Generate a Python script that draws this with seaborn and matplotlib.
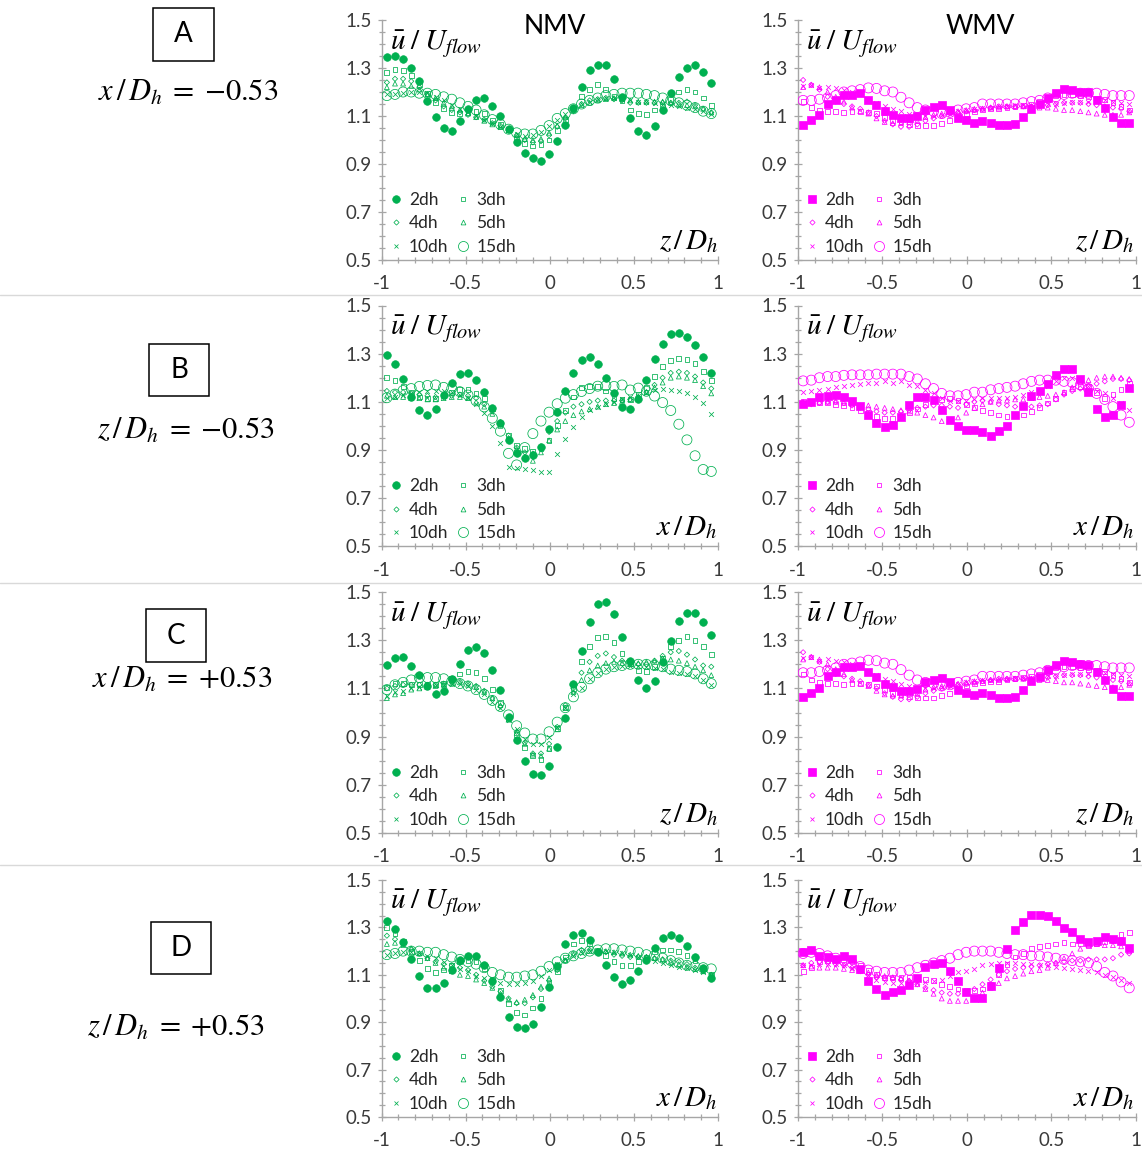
import numpy as np
import matplotlib
matplotlib.use("Agg")
import matplotlib.pyplot as plt
from matplotlib.lines import Line2D
from matplotlib.patches import Rectangle
from matplotlib.ticker import FixedLocator, MultipleLocator
import seaborn as sns

sns.set_style("ticks")
plt.rcParams["font.family"] = ["Lato", "DejaVu Sans"]
plt.rcParams["mathtext.fontset"] = "stix"

W, H = 1142, 1152

# traverse stations (41 measurement points across the section)
positions = np.linspace(-0.968, 0.960, 41)

series_labels = ["2dh", "3dh", "4dh", "5dh", "10dh", "15dh"]
x_ticks = [-1, -0.5, 0, 0.5, 1]
x_tick_labels = ["-1", "-0.5", "0", "0.5", "1"]
y_ticks = [0.5, 0.7, 0.9, 1.1, 1.3, 1.5]
y_tick_labels = ["0.5", "0.7", "0.9", "1.1", "1.3", "1.5"]

# ---------------- row A : x/Dh = -0.53 (traverse in z) ----------------
nmv_A_2dh = [1.347, 1.352, 1.338, 1.302, 1.245, 1.164, 1.094, 1.050, 1.039, 1.079, 1.131, 1.166, 1.175, 1.143,
             1.100, 1.047, 0.992, 0.946, 0.925, 0.911, 0.941, 0.997, 1.063, 1.134, 1.220, 1.291, 1.313, 1.311,
             1.255, 1.181, 1.091, 1.036, 1.022, 1.057, 1.123, 1.195, 1.262, 1.299, 1.311, 1.283, 1.237]
nmv_A_3dh = [1.28, 1.295, 1.29, 1.27, 1.23, 1.195, 1.155, 1.13, 1.115, 1.11, 1.115, 1.12, 1.11, 1.08, 1.065,
             1.045, 1.005, 0.985, 0.975, 0.98, 1.0, 1.04, 1.085, 1.13, 1.18, 1.21, 1.23, 1.21, 1.18, 1.165,
             1.125, 1.11, 1.105, 1.125, 1.14, 1.17, 1.2, 1.21, 1.2, 1.175, 1.145]
nmv_A_4dh = [1.24, 1.255, 1.255, 1.245, 1.22, 1.19, 1.165, 1.14, 1.125, 1.115, 1.105, 1.095, 1.085, 1.07, 1.06,
             1.04, 1.02, 1.0, 0.99, 0.995, 1.02, 1.055, 1.09, 1.12, 1.15, 1.165, 1.17, 1.175, 1.17, 1.165,
             1.155, 1.155, 1.155, 1.155, 1.155, 1.155, 1.155, 1.16, 1.145, 1.13, 1.115]
nmv_A_5dh = [1.22, 1.235, 1.235, 1.225, 1.21, 1.19, 1.175, 1.155, 1.14, 1.125, 1.11, 1.095, 1.08, 1.065, 1.055,
             1.04, 1.02, 1.005, 1.0, 1.005, 1.03, 1.06, 1.095, 1.125, 1.145, 1.155, 1.165, 1.17, 1.175, 1.17,
             1.165, 1.16, 1.16, 1.16, 1.16, 1.155, 1.15, 1.145, 1.14, 1.13, 1.115]
nmv_A_10dh = [1.19, 1.19, 1.195, 1.2, 1.2, 1.195, 1.18, 1.165, 1.145, 1.13, 1.115, 1.1, 1.085, 1.07, 1.055,
              1.04, 1.025, 1.015, 1.02, 1.035, 1.06, 1.085, 1.11, 1.13, 1.15, 1.16, 1.17, 1.175, 1.175, 1.17,
              1.165, 1.16, 1.16, 1.155, 1.15, 1.145, 1.14, 1.135, 1.13, 1.12, 1.11]
nmv_A_15dh = [1.185, 1.19, 1.2, 1.2, 1.195, 1.195, 1.19, 1.18, 1.17, 1.155, 1.14, 1.125, 1.105, 1.085, 1.065,
              1.045, 1.03, 1.025, 1.025, 1.04, 1.06, 1.09, 1.11, 1.13, 1.15, 1.165, 1.175, 1.185, 1.19, 1.195,
              1.195, 1.195, 1.19, 1.185, 1.175, 1.165, 1.155, 1.145, 1.135, 1.12, 1.11]

wmv_A_2dh = [1.064, 1.082, 1.103, 1.151, 1.168, 1.188, 1.188, 1.195, 1.168, 1.146, 1.119, 1.104, 1.091, 1.091,
             1.098, 1.126, 1.136, 1.144, 1.127, 1.093, 1.082, 1.071, 1.079, 1.072, 1.061, 1.061, 1.065, 1.094,
             1.130, 1.148, 1.176, 1.197, 1.212, 1.209, 1.201, 1.198, 1.168, 1.134, 1.097, 1.069, 1.069]
wmv_A_3dh = [1.16, 1.135, 1.125, 1.12, 1.12, 1.115, 1.12, 1.12, 1.115, 1.11, 1.095, 1.08, 1.075, 1.065, 1.06,
             1.06, 1.06, 1.07, 1.08, 1.095, 1.11, 1.12, 1.125, 1.13, 1.13, 1.135, 1.14, 1.145, 1.15, 1.16,
             1.175, 1.185, 1.19, 1.19, 1.185, 1.18, 1.175, 1.17, 1.155, 1.14, 1.125]
wmv_A_4dh = [1.25, 1.23, 1.21, 1.18, 1.16, 1.15, 1.14, 1.13, 1.115, 1.1, 1.08, 1.065, 1.055, 1.055, 1.065,
             1.08, 1.09, 1.1, 1.11, 1.115, 1.12, 1.125, 1.13, 1.135, 1.14, 1.14, 1.14, 1.14, 1.14, 1.14,
             1.145, 1.15, 1.155, 1.155, 1.155, 1.15, 1.145, 1.14, 1.135, 1.13, 1.12]
wmv_A_5dh = [1.22, 1.23, 1.22, 1.2, 1.18, 1.16, 1.135, 1.12, 1.11, 1.09, 1.075, 1.07, 1.07, 1.075, 1.08,
             1.095, 1.105, 1.11, 1.115, 1.12, 1.125, 1.13, 1.13, 1.135, 1.135, 1.14, 1.14, 1.14, 1.14, 1.135,
             1.135, 1.13, 1.125, 1.125, 1.12, 1.115, 1.11, 1.105, 1.105, 1.105, 1.115]
wmv_A_10dh = [1.225, 1.23, 1.215, 1.22, 1.215, 1.21, 1.2, 1.19, 1.17, 1.155, 1.14, 1.13, 1.12, 1.11, 1.1,
              1.1, 1.1, 1.105, 1.11, 1.12, 1.125, 1.13, 1.135, 1.135, 1.14, 1.14, 1.145, 1.145, 1.145, 1.145,
              1.15, 1.15, 1.155, 1.16, 1.16, 1.16, 1.165, 1.165, 1.16, 1.155, 1.15]
wmv_A_15dh = [1.165, 1.165, 1.17, 1.175, 1.185, 1.2, 1.205, 1.21, 1.217, 1.215, 1.205, 1.2, 1.178, 1.155, 1.135,
              1.125, 1.12, 1.11, 1.115, 1.125, 1.13, 1.135, 1.15, 1.15, 1.15, 1.15, 1.15, 1.155, 1.16, 1.165,
              1.175, 1.18, 1.19, 1.195, 1.195, 1.195, 1.195, 1.19, 1.185, 1.185, 1.185]

# ---------------- row B : z/Dh = -0.53 (traverse in x) ----------------
nmv_B_2dh = [1.294, 1.257, 1.194, 1.122, 1.067, 1.046, 1.072, 1.129, 1.178, 1.215, 1.219, 1.192, 1.139, 1.076,
             1.010, 0.943, 0.889, 0.868, 0.879, 0.914, 0.986, 1.058, 1.144, 1.218, 1.274, 1.286, 1.258, 1.200,
             1.135, 1.079, 1.069, 1.112, 1.190, 1.278, 1.342, 1.381, 1.386, 1.369, 1.336, 1.288, 1.219]
nmv_B_3dh = [1.2, 1.19, 1.165, 1.14, 1.12, 1.115, 1.115, 1.125, 1.14, 1.15, 1.15, 1.135, 1.115, 1.07, 1.01,
             0.96, 0.92, 0.905, 0.895, 0.905, 0.94, 1.0, 1.065, 1.12, 1.16, 1.165, 1.165, 1.145, 1.115, 1.11,
             1.11, 1.13, 1.16, 1.205, 1.245, 1.27, 1.28, 1.275, 1.26, 1.225, 1.19]
nmv_B_4dh = [1.145, 1.14, 1.14, 1.135, 1.13, 1.125, 1.12, 1.12, 1.125, 1.13, 1.125, 1.115, 1.09, 1.06, 1.015,
             0.96, 0.91, 0.89, 0.885, 0.915, 0.975, 1.02, 1.055, 1.08, 1.09, 1.1, 1.105, 1.105, 1.105, 1.105,
             1.11, 1.12, 1.14, 1.17, 1.2, 1.22, 1.225, 1.22, 1.205, 1.18, 1.155]
nmv_B_5dh = [1.125, 1.12, 1.12, 1.115, 1.115, 1.11, 1.11, 1.115, 1.12, 1.12, 1.115, 1.1, 1.08, 1.05, 1.0,
             0.95, 0.905, 0.87, 0.855, 0.89, 0.94, 0.985, 1.02, 1.045, 1.06, 1.07, 1.08, 1.09, 1.095, 1.1,
             1.11, 1.12, 1.14, 1.16, 1.18, 1.2, 1.205, 1.2, 1.19, 1.165, 1.135]
nmv_B_10dh = [1.115, 1.12, 1.13, 1.135, 1.14, 1.145, 1.145, 1.145, 1.14, 1.13, 1.115, 1.09, 1.055, 1.0, 0.93,
              0.83, 0.825, 0.82, 0.815, 0.81, 0.81, 0.885, 0.945, 0.995, 1.035, 1.065, 1.08, 1.09, 1.1, 1.11,
              1.12, 1.125, 1.135, 1.15, 1.155, 1.15, 1.145, 1.135, 1.12, 1.095, 1.05]
nmv_B_15dh = [1.117, 1.132, 1.147, 1.155, 1.164, 1.168, 1.17, 1.16, 1.156, 1.142, 1.128, 1.104, 1.079, 1.032,
              0.978, 0.886, 0.838, 0.91, 0.968, 1.02, 1.057, 1.092, 1.115, 1.13, 1.143, 1.155, 1.165, 1.167,
              1.164, 1.17, 1.149, 1.157, 1.144, 1.124, 1.097, 1.064, 1.007, 0.942, 0.876, 0.819, 0.811]

wmv_B_2dh = [1.092, 1.101, 1.121, 1.123, 1.129, 1.121, 1.103, 1.082, 1.046, 1.012, 0.997, 1.005, 1.035, 1.085,
             1.119, 1.119, 1.106, 1.067, 1.023, 0.999, 0.981, 0.981, 0.973, 0.958, 0.980, 0.998, 1.045, 1.082,
             1.125, 1.146, 1.172, 1.213, 1.235, 1.238, 1.194, 1.139, 1.072, 1.038, 1.045, 1.088, 1.158]
wmv_B_3dh = [1.1, 1.1, 1.095, 1.095, 1.09, 1.085, 1.075, 1.065, 1.055, 1.04, 1.03, 1.03, 1.04, 1.055, 1.07,
             1.09, 1.105, 1.11, 1.115, 1.105, 1.09, 1.075, 1.065, 1.055, 1.045, 1.04, 1.045, 1.045, 1.06, 1.075,
             1.095, 1.115, 1.14, 1.155, 1.165, 1.165, 1.14, 1.115, 1.13, 1.15, 1.175]
wmv_B_4dh = [1.095, 1.09, 1.095, 1.1, 1.1, 1.095, 1.085, 1.075, 1.07, 1.06, 1.055, 1.055, 1.06, 1.065, 1.075,
             1.08, 1.085, 1.085, 1.08, 1.075, 1.09, 1.1, 1.105, 1.1, 1.09, 1.085, 1.08, 1.08, 1.08, 1.085,
             1.09, 1.11, 1.13, 1.145, 1.155, 1.165, 1.175, 1.185, 1.195, 1.195, 1.19]
wmv_B_5dh = [1.1, 1.1, 1.1, 1.1, 1.1, 1.095, 1.09, 1.085, 1.085, 1.08, 1.075, 1.07, 1.065, 1.06, 1.055,
             1.045, 1.035, 1.02, 1.02, 1.035, 1.055, 1.075, 1.09, 1.1, 1.105, 1.105, 1.11, 1.11, 1.115, 1.12,
             1.125, 1.13, 1.14, 1.16, 1.18, 1.19, 1.2, 1.205, 1.205, 1.2, 1.195]
wmv_B_10dh = [1.14, 1.145, 1.15, 1.155, 1.16, 1.165, 1.17, 1.175, 1.18, 1.18, 1.185, 1.18, 1.185, 1.17, 1.165,
              1.15, 1.135, 1.115, 1.105, 1.105, 1.105, 1.11, 1.115, 1.115, 1.115, 1.115, 1.12, 1.13, 1.14, 1.15,
              1.165, 1.185, 1.2, 1.2, 1.185, 1.165, 1.145, 1.135, 1.115, 1.095, 1.065]
wmv_B_15dh = [1.187, 1.19, 1.2, 1.205, 1.205, 1.21, 1.212, 1.212, 1.212, 1.215, 1.215, 1.215, 1.215, 1.205, 1.195,
              1.175, 1.155, 1.135, 1.125, 1.125, 1.13, 1.14, 1.14, 1.15, 1.155, 1.16, 1.165, 1.175, 1.185, 1.19,
              1.19, 1.19, 1.185, 1.18, 1.17, 1.155, 1.135, 1.11, 1.08, 1.045, 1.015]

# ---------------- row C : x/Dh = +0.53 (traverse in z) ----------------
nmv_C_2dh = [1.197, 1.225, 1.229, 1.193, 1.157, 1.108, 1.076, 1.089, 1.138, 1.201, 1.261, 1.273, 1.246, 1.175,
             1.092, 0.980, 0.886, 0.800, 0.746, 0.739, 0.777, 0.857, 0.976, 1.118, 1.256, 1.374, 1.449, 1.459,
             1.410, 1.313, 1.214, 1.134, 1.102, 1.129, 1.208, 1.298, 1.378, 1.414, 1.413, 1.377, 1.320]
nmv_C_3dh = [1.105, 1.12, 1.12, 1.115, 1.115, 1.115, 1.115, 1.12, 1.14, 1.16, 1.17, 1.165, 1.14, 1.095, 1.04,
             0.975, 0.91, 0.855, 0.82, 0.805, 0.85, 0.935, 1.02, 1.1, 1.21, 1.275, 1.31, 1.315, 1.29, 1.245,
             1.205, 1.175, 1.17, 1.19, 1.225, 1.275, 1.3, 1.315, 1.3, 1.275, 1.24]
nmv_C_4dh = [1.1, 1.11, 1.115, 1.115, 1.115, 1.115, 1.115, 1.12, 1.125, 1.13, 1.12, 1.11, 1.09, 1.06, 1.025,
             0.975, 0.92, 0.875, 0.83, 0.83, 0.87, 0.94, 1.03, 1.1, 1.165, 1.21, 1.235, 1.245, 1.23, 1.215,
             1.205, 1.2, 1.2, 1.215, 1.235, 1.25, 1.255, 1.24, 1.22, 1.195, 1.19]
nmv_C_5dh = [1.06, 1.075, 1.08, 1.095, 1.1, 1.105, 1.11, 1.115, 1.12, 1.125, 1.115, 1.105, 1.085, 1.06, 1.03,
             0.97, 0.915, 0.87, 0.825, 0.82, 0.85, 0.93, 1.02, 1.085, 1.135, 1.175, 1.195, 1.205, 1.21, 1.205,
             1.2, 1.205, 1.21, 1.215, 1.225, 1.22, 1.215, 1.205, 1.19, 1.175, 1.155]
nmv_C_10dh = [1.07, 1.085, 1.09, 1.1, 1.105, 1.11, 1.115, 1.115, 1.12, 1.12, 1.11, 1.095, 1.075, 1.045, 1.02,
              0.97, 0.93, 0.89, 0.87, 0.87, 0.9, 0.94, 1.02, 1.075, 1.1, 1.14, 1.165, 1.18, 1.19, 1.195,
              1.195, 1.195, 1.19, 1.185, 1.18, 1.17, 1.165, 1.16, 1.15, 1.135, 1.115]
nmv_C_15dh = [1.095, 1.115, 1.125, 1.135, 1.145, 1.145, 1.145, 1.14, 1.13, 1.12, 1.11, 1.095, 1.075, 1.05, 1.025,
              0.99, 0.945, 0.915, 0.89, 0.89, 0.92, 0.96, 1.02, 1.065, 1.105, 1.14, 1.165, 1.18, 1.19, 1.195,
              1.2, 1.2, 1.2, 1.195, 1.19, 1.18, 1.175, 1.17, 1.16, 1.14, 1.12]

# the WMV profiles at x/Dh = +0.53 coincide with those at x/Dh = -0.53
wmv_C_2dh = wmv_A_2dh
wmv_C_3dh = wmv_A_3dh
wmv_C_4dh = wmv_A_4dh
wmv_C_5dh = wmv_A_5dh
wmv_C_10dh = wmv_A_10dh
wmv_C_15dh = wmv_A_15dh

# ---------------- row D : z/Dh = +0.53 (traverse in x) ----------------
nmv_D_2dh = [1.325, 1.294, 1.239, 1.166, 1.096, 1.046, 1.044, 1.067, 1.120, 1.162, 1.181, 1.181, 1.140, 1.073,
             1.006, 0.924, 0.881, 0.874, 0.893, 0.963, 1.048, 1.136, 1.228, 1.267, 1.278, 1.247, 1.197, 1.142,
             1.091, 1.063, 1.077, 1.114, 1.163, 1.212, 1.257, 1.267, 1.256, 1.221, 1.174, 1.127, 1.085]
nmv_D_3dh = [1.3, 1.275, 1.24, 1.2, 1.16, 1.125, 1.11, 1.12, 1.14, 1.155, 1.16, 1.155, 1.125, 1.08, 1.035,
             0.98, 0.94, 0.93, 0.96, 1.0, 1.065, 1.115, 1.175, 1.23, 1.245, 1.23, 1.205, 1.18, 1.155, 1.14,
             1.14, 1.155, 1.175, 1.2, 1.205, 1.205, 1.2, 1.18, 1.16, 1.125, 1.1]
nmv_D_4dh = [1.265, 1.25, 1.23, 1.21, 1.19, 1.17, 1.155, 1.145, 1.14, 1.13, 1.12, 1.1, 1.075, 1.05, 1.03,
             1.0, 0.98, 0.98, 1.005, 1.04, 1.075, 1.12, 1.16, 1.19, 1.205, 1.205, 1.2, 1.195, 1.185, 1.18,
             1.175, 1.175, 1.175, 1.17, 1.165, 1.16, 1.155, 1.145, 1.13, 1.115, 1.1]
nmv_D_5dh = [1.23, 1.235, 1.225, 1.21, 1.19, 1.17, 1.15, 1.13, 1.115, 1.1, 1.095, 1.08, 1.065, 1.045, 1.02,
             0.995, 0.985, 0.995, 1.015, 1.05, 1.085, 1.125, 1.16, 1.185, 1.195, 1.2, 1.2, 1.2, 1.195, 1.19,
             1.185, 1.18, 1.175, 1.17, 1.165, 1.155, 1.145, 1.135, 1.125, 1.115, 1.1]
nmv_D_10dh = [1.185, 1.19, 1.195, 1.195, 1.19, 1.18, 1.17, 1.155, 1.14, 1.125, 1.115, 1.095, 1.085, 1.07, 1.065,
              1.06, 1.06, 1.065, 1.075, 1.095, 1.12, 1.145, 1.165, 1.18, 1.19, 1.2, 1.2, 1.2, 1.195, 1.19,
              1.185, 1.175, 1.17, 1.16, 1.15, 1.14, 1.135, 1.13, 1.12, 1.11, 1.1]
nmv_D_15dh = [1.185, 1.19, 1.2, 1.2, 1.2, 1.195, 1.195, 1.185, 1.175, 1.165, 1.155, 1.145, 1.13, 1.11, 1.1,
              1.09, 1.09, 1.095, 1.1, 1.115, 1.135, 1.155, 1.17, 1.18, 1.19, 1.2, 1.205, 1.21, 1.21, 1.205,
              1.2, 1.195, 1.185, 1.18, 1.17, 1.16, 1.15, 1.14, 1.135, 1.13, 1.125]

wmv_D_2dh = [1.196, 1.203, 1.181, 1.174, 1.167, 1.178, 1.165, 1.124, 1.072, 1.038, 1.016, 1.026, 1.034, 1.056,
             1.088, 1.134, 1.145, 1.150, 1.117, 1.073, 1.027, 1.003, 1.003, 1.052, 1.127, 1.209, 1.288, 1.323,
             1.353, 1.354, 1.346, 1.325, 1.297, 1.281, 1.250, 1.240, 1.243, 1.260, 1.253, 1.242, 1.212]
wmv_D_3dh = [1.115, 1.13, 1.155, 1.16, 1.165, 1.165, 1.155, 1.14, 1.12, 1.1, 1.09, 1.09, 1.09, 1.09, 1.085,
             1.08, 1.075, 1.06, 1.05, 1.04, 1.035, 1.035, 1.04, 1.06, 1.1, 1.145, 1.175, 1.19, 1.21, 1.22,
             1.225, 1.23, 1.235, 1.23, 1.23, 1.225, 1.23, 1.24, 1.245, 1.27, 1.28]
wmv_D_4dh = [1.14, 1.15, 1.155, 1.15, 1.145, 1.14, 1.13, 1.115, 1.1, 1.09, 1.085, 1.085, 1.08, 1.075, 1.06,
             1.045, 1.035, 1.025, 1.02, 1.02, 1.025, 1.04, 1.06, 1.08, 1.1, 1.115, 1.125, 1.13, 1.135, 1.14,
             1.145, 1.15, 1.155, 1.16, 1.16, 1.165, 1.165, 1.165, 1.17, 1.185, 1.19]
wmv_D_5dh = [1.14, 1.135, 1.13, 1.13, 1.13, 1.125, 1.12, 1.115, 1.11, 1.1, 1.095, 1.09, 1.085, 1.075, 1.06,
             1.04, 1.02, 1.0, 0.99, 0.99, 0.99, 1.005, 1.025, 1.045, 1.065, 1.085, 1.095, 1.105, 1.115, 1.12,
             1.13, 1.15, 1.17, 1.19, 1.21, 1.225, 1.23, 1.225, 1.225, 1.22, 1.2]
wmv_D_10dh = [1.14, 1.14, 1.145, 1.145, 1.145, 1.14, 1.13, 1.12, 1.1, 1.08, 1.07, 1.065, 1.065, 1.06, 1.065,
              1.07, 1.075, 1.08, 1.095, 1.11, 1.115, 1.125, 1.14, 1.145, 1.15, 1.15, 1.15, 1.145, 1.145, 1.14,
              1.14, 1.135, 1.13, 1.125, 1.12, 1.115, 1.11, 1.1, 1.09, 1.08, 1.065]
wmv_D_15dh = [1.19, 1.195, 1.19, 1.18, 1.17, 1.16, 1.15, 1.135, 1.12, 1.115, 1.11, 1.11, 1.11, 1.12, 1.13,
              1.14, 1.15, 1.16, 1.17, 1.185, 1.195, 1.2, 1.2, 1.2, 1.195, 1.19, 1.185, 1.185, 1.18, 1.18,
              1.175, 1.17, 1.165, 1.16, 1.155, 1.15, 1.135, 1.11, 1.095, 1.07, 1.045]

row_letters = ["A", "B", "C", "D"]
row_conditions = [r"$x\,/\,D_h\;=\;{-}0.53$", r"$z\,/\,D_h\;=\;{-}0.53$",
                  r"$x\,/\,D_h\;=\;{+}0.53$", r"$z\,/\,D_h\;=\;{+}0.53$"]
row_axis_names = [r"$z\,/\,D_h$", r"$x\,/\,D_h$", r"$z\,/\,D_h$", r"$x\,/\,D_h$"]
value_name = r"$\bar{u}\;/\;U_{flow}$"

nmv_rows = [
    [nmv_A_2dh, nmv_A_3dh, nmv_A_4dh, nmv_A_5dh, nmv_A_10dh, nmv_A_15dh],
    [nmv_B_2dh, nmv_B_3dh, nmv_B_4dh, nmv_B_5dh, nmv_B_10dh, nmv_B_15dh],
    [nmv_C_2dh, nmv_C_3dh, nmv_C_4dh, nmv_C_5dh, nmv_C_10dh, nmv_C_15dh],
    [nmv_D_2dh, nmv_D_3dh, nmv_D_4dh, nmv_D_5dh, nmv_D_10dh, nmv_D_15dh],
]
wmv_rows = [
    [wmv_A_2dh, wmv_A_3dh, wmv_A_4dh, wmv_A_5dh, wmv_A_10dh, wmv_A_15dh],
    [wmv_B_2dh, wmv_B_3dh, wmv_B_4dh, wmv_B_5dh, wmv_B_10dh, wmv_B_15dh],
    [wmv_C_2dh, wmv_C_3dh, wmv_C_4dh, wmv_C_5dh, wmv_C_10dh, wmv_C_15dh],
    [wmv_D_2dh, wmv_D_3dh, wmv_D_4dh, wmv_D_5dh, wmv_D_10dh, wmv_D_15dh],
]

GREEN = "#00B050"
MAGENTA = "#FF00FF"
AXIS_GREY = "#A6A6A6"
LABEL_GREY = "#3A3A3A"

# marker shape, area (pt^2) and whether it is filled
nmv_markers = {"2dh": ("o", 30, True), "3dh": ("s", 12, False), "4dh": ("D", 7, False),
               "5dh": ("^", 12, False), "10dh": ("x", 12, False), "15dh": ("o", 52, False)}
wmv_markers = dict(nmv_markers)
wmv_markers["2dh"] = ("s", 34, True)

# pixel layout: (top, bottom) of each row's plotting area
row_spans = [(20, 260), (305.5, 546.3), (592, 833), (880, 1117)]
nmv_span = (381.5, 718)
wmv_span = (797.7, 1136)

fig = plt.figure(figsize=(W / 100, H / 100), dpi=100)
fig.patch.set_facecolor("white")


def add_px_axes(left, right, top, bottom):
    return fig.add_axes([left / W, 1 - bottom / H, (right - left) / W, (bottom - top) / H])


def style_axes(ax):
    ax.set_xlim(-1, 1)
    ax.set_ylim(0.5, 1.5)
    ax.xaxis.set_major_locator(FixedLocator(x_ticks))
    ax.set_xticklabels(x_tick_labels)
    ax.xaxis.set_minor_locator(MultipleLocator(0.1))
    ax.yaxis.set_major_locator(FixedLocator(y_ticks))
    ax.set_yticklabels(y_tick_labels)
    ax.yaxis.set_minor_locator(MultipleLocator(0.05))
    for side in ("top", "right"):
        ax.spines[side].set_visible(False)
    for side in ("left", "bottom"):
        ax.spines[side].set_color(AXIS_GREY)
        ax.spines[side].set_linewidth(1.0)
    ax.tick_params(which="major", direction="inout", length=6, width=0.9, color=AXIS_GREY,
                   labelsize=13.5, labelcolor=LABEL_GREY)
    ax.tick_params(which="minor", direction="inout", length=5, width=0.9, color=AXIS_GREY)
    ax.tick_params(axis="x", which="major", pad=8)
    ax.tick_params(axis="y", which="major", pad=4)
    ax.set_xlabel("")
    ax.set_ylabel("")
    ax.grid(False)
    ax.set_facecolor("white")


def draw_profiles(ax, series, color, markers):
    for label, values in zip(series_labels, series):
        marker, size, filled = markers[label]
        if filled:
            sns.scatterplot(x=positions, y=values, ax=ax, marker=marker, s=size, color=color,
                            edgecolor=color, linewidth=0.5, legend=False, zorder=4)
        elif marker == "x":
            sns.scatterplot(x=positions, y=values, ax=ax, marker=marker, s=size, color=color,
                            linewidth=0.55, legend=False, zorder=3)
        else:
            sns.scatterplot(x=positions, y=values, ax=ax, marker=marker, s=size, facecolor="none",
                            edgecolor=color, linewidth=0.55, legend=False, zorder=3)
    # legend laid out row by row: 2dh 3dh / 4dh 5dh / 10dh 15dh
    order = ["2dh", "4dh", "10dh", "3dh", "5dh", "15dh"]
    handles = []
    for label in order:
        marker, size, filled = markers[label]
        handles.append(Line2D([], [], linestyle="none", marker=marker, markersize=np.sqrt(size),
                              markerfacecolor=color if filled else "none",
                              markeredgecolor=color, color=color,
                              markeredgewidth=0.5 if filled else 0.55))
    ax.legend(handles, order, ncol=2, loc="lower left", bbox_to_anchor=(0.022, 0.022),
              frameon=False, borderpad=0, borderaxespad=0, handlelength=0.8, handletextpad=0.35,
              columnspacing=0.45, labelspacing=0.42, fontsize=12.5)


for r in range(4):
    top, bottom = row_spans[r]
    for (left, right), rows, color, markers, xname_x in (
            (nmv_span, nmv_rows, GREEN, nmv_markers, 1.0),
            (wmv_span, wmv_rows, MAGENTA, wmv_markers, 0.995)):
        ax = add_px_axes(left, right, top, bottom)
        draw_profiles(ax, rows[r], color, markers)
        style_axes(ax)
        ax.text(0.025, 0.965, value_name, transform=ax.transAxes, ha="left", va="top",
                fontsize=21, color="black")
        ax.text(xname_x, 0.045, row_axis_names[r], transform=ax.transAxes, ha="right", va="baseline",
                fontsize=21, color="black")

# column titles
fig.text(555 / W, 1 - 26 / H, "NMV", ha="center", va="center", fontsize=19, color="black")
fig.text(980 / W, 1 - 26 / H, "WMV", ha="center", va="center", fontsize=19, color="black")

# row tags and the traverse location of each row
tag_boxes = [(153, 8, 214, 61), (149, 344, 209, 396), (146, 609, 206, 662), (151, 922, 211, 974)]
cond_pos = [(188, 100.7), (186, 439), (182, 688), (176, 1035.5)]
for r in range(4):
    x0, y0, x1, y1 = tag_boxes[r]
    fig.patches.append(Rectangle((x0 / W, 1 - y1 / H), (x1 - x0) / W, (y1 - y0) / H,
                                 transform=fig.transFigure, fill=False, edgecolor="black", linewidth=1.1))
    fig.text((x0 + x1) / 2 / W, 1 - (y0 + y1) / 2 / H, row_letters[r], ha="center", va="center",
             fontsize=20, color="black")
    cx, cy = cond_pos[r]
    fig.text(cx / W, 1 - cy / H, row_conditions[r], ha="center", va="baseline", fontsize=22, color="black")

# thin separators between the rows
for y in (295, 583, 865):
    fig.add_artist(Line2D([0, 1], [1 - y / H, 1 - y / H], transform=fig.transFigure,
                          color="#D9D9D9", linewidth=1.0))

fig.savefig("out.png", dpi=100, facecolor="white")
